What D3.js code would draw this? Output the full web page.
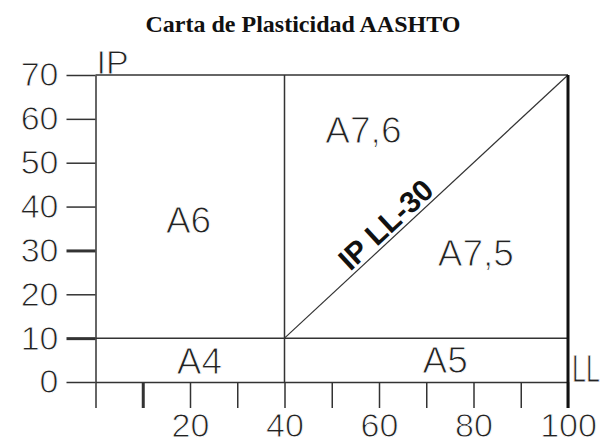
<!DOCTYPE html>
<html>
<head>
<meta charset="utf-8">
<script src="https://cdn.jsdelivr.net/npm/d3@7"></script>
<style>
  body { margin: 0; background: #fff; }
  svg { display: block; }
  .axis text { font-family: "Liberation Sans", Arial, sans-serif; font-size: 34px; fill: #222; stroke: #fff; stroke-width: 0.9; }
  .axis line, .axis path { stroke: #333; stroke-width: 1.5; }
  .zone { font-family: "Liberation Sans", Arial, sans-serif; font-size: 37px; fill: #222; stroke: #fff; stroke-width: 1; }
</style>
</head>
<body>
<div class="chart"></div>
<script>
// datos de la carta
const title = 'Carta de Plasticidad AASHTO';
const xTicks = [0, 10, 20, 30, 40, 50, 60, 70, 80, 90, 100];
const xLabels = [20, 40, 60, 80, 100];
const yTicks = [0, 10, 20, 30, 40, 50, 60, 70];
const thickX = [10];
const thickY = [10, 30];
const llLimit = 40;   // limite vertical LL=40
const ipLimit = 10;   // limite horizontal IP=10
const diagonal = [[40, 10], [100, 70]];   // IP = LL - 30
const zoneNames = ['A6', 'A4', 'A5', 'A7,6', 'A7,5'];
const zoneLL = [19.7, 22, 74, 56.7, 80.5];
const zoneIP = [37, 4.8, 5.2, 57.5, 29.6];

const width = 600, height = 443;

const svg = d3.select('.chart').append('svg')
    .attr('width', width).attr('height', height);

const x = d3.scaleLinear().domain([0, 100]).range([95.5, 568]);
const y = d3.scaleLinear().domain([0, 70]).range([382, 75]);

// titulo
svg.append('text')
    .attr('x', 303).attr('y', 32)
    .attr('text-anchor', 'middle')
    .style('font-family', '"Liberation Serif", "Times New Roman", serif')
    .style('font-weight', 'bold')
    .style('font-size', '24px')
    .style('fill', '#111')
    .text(title);

// ejes
const xAxis = d3.axisBottom(x)
    .tickValues(xTicks)
    .tickFormat(d => xLabels.includes(d) ? d : '')
    .tickSizeInner(26).tickSizeOuter(0).tickPadding(5);
const xAxisDraw = svg.append('g').attr('class', 'axis x')
    .attr('transform', `translate(0,${y(0)})`)
    .call(xAxis);
xAxisDraw.selectAll('.tick line')
    .filter(d => thickX.includes(d)).style('stroke-width', 3);

const yAxis = d3.axisLeft(y)
    .tickValues(yTicks)
    .tickSizeInner(29).tickSizeOuter(0).tickPadding(8);
const yAxisDraw = svg.append('g').attr('class', 'axis y')
    .attr('transform', `translate(${x(0)},0)`)
    .call(yAxis);
yAxisDraw.selectAll('.tick line')
    .filter(d => thickY.includes(d)).style('stroke-width', 3);

// rotulos de los ejes
svg.append('text').attr('class', 'axis-label')
    .attr('x', x(0) + 1).attr('y', y(70) - 1)
    .style('font-family', '"Liberation Sans", Arial, sans-serif')
    .style('font-size', '34px').style('fill', '#222')
    .style('stroke', '#fff').style('stroke-width', 0.9)
    .text('IP');
svg.append('text').attr('class', 'axis-label')
    .attr('transform', `translate(${x(100) + 4},${y(0)}) scale(0.66,1)`)
    .style('font-family', '"Liberation Sans", Arial, sans-serif')
    .style('font-size', '38px').style('fill', '#222')
    .style('stroke', '#fff').style('stroke-width', 0.9)
    .text('LL');

// lineas de la carta
const lines = svg.append('g').style('stroke', '#333').style('stroke-width', 1.5).style('fill', 'none');
lines.append('line')
    .attr('x1', x(0)).attr('x2', x(100)).attr('y1', y(70)).attr('y2', y(70));
lines.append('line')
    .attr('x1', x(0)).attr('x2', x(100)).attr('y1', y(ipLimit)).attr('y2', y(ipLimit));
lines.append('line')
    .attr('x1', x(llLimit)).attr('x2', x(llLimit)).attr('y1', y(0)).attr('y2', y(70));
lines.append('line')
    .attr('x1', x(diagonal[0][0])).attr('y1', y(diagonal[0][1]))
    .attr('x2', x(diagonal[1][0])).attr('y2', y(diagonal[1][1]))
    .style('stroke-width', 1.2);
// borde derecho grueso
svg.append('line')
    .attr('x1', x(100)).attr('x2', x(100))
    .attr('y1', y(70)).attr('y2', y(0) + 26)
    .style('stroke', '#111').style('stroke-width', 3);

// rotulo de la diagonal
const ang = Math.atan2(y(diagonal[0][1]) - y(diagonal[1][1]), x(diagonal[1][0]) - x(diagonal[0][0])) * 180 / Math.PI;
const lblLL = 63.5;
svg.append('text')
    .attr('transform', `translate(${x(lblLL)},${y(lblLL - 30)}) rotate(${-ang})`)
    .attr('text-anchor', 'middle')
    .attr('dy', -4)
    .style('font-family', '"Liberation Sans", Arial, sans-serif')
    .style('font-weight', 'bold')
    .style('font-size', '30px')
    .style('fill', '#111')
    .text('IP LL-30');

// zonas
svg.append('g').selectAll('.zone')
    .data(zoneNames)
    .enter()
    .append('text')
    .attr('class', 'zone')
    .attr('x', (d, i) => x(zoneLL[i]))
    .attr('y', (d, i) => y(zoneIP[i]))
    .attr('dy', '0.36em')
    .attr('text-anchor', 'middle')
    .text(d => d);
</script>
</body>
</html>
